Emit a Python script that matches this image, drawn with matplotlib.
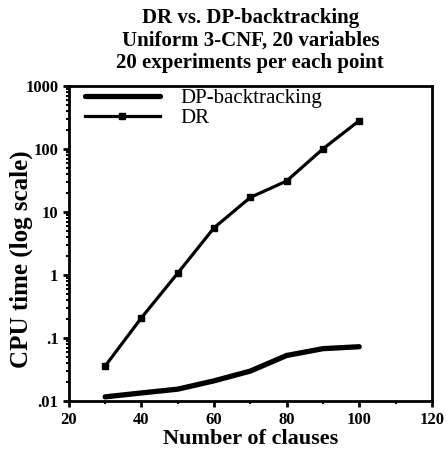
import numpy as np
import matplotlib
matplotlib.use("Agg")
import matplotlib.pyplot as plt
from matplotlib.ticker import FixedLocator, FixedFormatter, LogLocator, NullFormatter

# data
clauses = [30, 40, 50, 60, 70, 80, 90, 100]
dp_time = [0.0117, 0.0135, 0.0155, 0.021, 0.030, 0.053, 0.068, 0.073]
dr_time = [0.036, 0.21, 1.07, 5.6, 17, 31, 100, 280]
yticks = [0.01, 0.1, 1, 10, 100, 1000]
ytick_labels = [".01", ".1", "1", "10", "100", "1000"]
xticks = [20, 40, 60, 80, 100, 120]

plt.rcParams['font.family'] = ['Liberation Serif', 'DejaVu Serif']

fig = plt.figure(figsize=(4.47, 4.59), dpi=100)
ax = fig.add_axes([0.154, 0.126, 0.812, 0.687])

ax.plot(clauses, dp_time, color='black', lw=3.8, solid_capstyle='round',
        label='DP-backtracking')
ax.plot(clauses, dr_time, color='black', lw=2.3, marker='s', ms=5,
        label='DR')

ax.set_yscale('log')
ax.set_ylim(0.01, 1000)
ax.set_xlim(20, 120)
ax.yaxis.set_major_locator(FixedLocator(yticks))
ax.yaxis.set_major_formatter(FixedFormatter(ytick_labels))
ax.yaxis.set_minor_locator(LogLocator(base=10, subs=np.arange(2, 10)))
ax.yaxis.set_minor_formatter(NullFormatter())
ax.set_xticks(xticks)
ax.set_xticks([30, 50, 70, 90, 110], minor=True)

for sp in ax.spines.values():
    sp.set_linewidth(2)
ax.tick_params(which='major', direction='out', length=4, width=2,
               labelsize=12)
ax.tick_params(which='minor', direction='out', length=2, width=1.5)
for lbl in ax.get_xticklabels() + ax.get_yticklabels():
    lbl.set_fontweight('bold')

ax.set_xlabel('Number of clauses', fontsize=16, fontweight='bold', labelpad=1)
ax.set_ylabel('CPU time (log scale)', fontsize=18, fontweight='bold')
ax.yaxis.set_label_coords(-0.10, 0.45)
fig.text(0.56, 0.982, 'DR vs. DP-backtracking\nUniform 3-CNF, 20 variables\n20 experiments per each point',
         fontsize=15, fontweight='bold', linespacing=1.15, ha='center', va='top')

ax.legend(loc='upper left', frameon=False, fontsize=15, handlelength=3.6,
          handletextpad=1.0, labelspacing=0.02, borderaxespad=0.2,
          bbox_to_anchor=(0.01, 1.03))

fig.savefig('out.png', dpi=100)
